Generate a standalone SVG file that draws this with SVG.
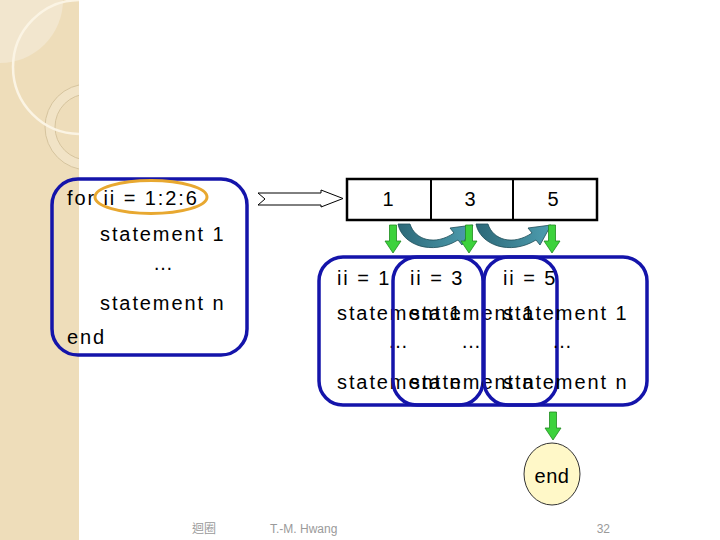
<svg xmlns="http://www.w3.org/2000/svg" width="720" height="540" viewBox="0 0 720 540">
<style>
.t{font-family:"Liberation Sans",Arial,sans-serif;font-size:20px;fill:#000;letter-spacing:1.9px}
.box{fill:none;stroke:#1414AA;stroke-width:3.5}
.grn{fill:#3CD23C;stroke:#1E8A1E;stroke-width:0.8}
.teal{fill:url(#tg);stroke:#1D4C58;stroke-width:0.8}
.ft{font-family:"Liberation Sans",Arial,"Noto Sans CJK TC",sans-serif;font-size:12px;fill:#9A9A9A}
</style>
<defs>
<linearGradient id="tg" x1="0" y1="0" x2="1" y2="0">
<stop offset="0" stop-color="#2C6878"/>
<stop offset="1" stop-color="#4E9EB0"/>
</linearGradient>
<clipPath id="strip"><rect x="0" y="0" width="79" height="540"/></clipPath>
<path id="garrow" d="M-3.5,0 H3.5 V16 H8 L0,28 L-8,16 H-3.5 Z"/>
<path id="tarrow" d="M398,224 C402,245 432,256 458,240 L462,245 L473,225 L450,228 L454,233 C435,246 415,240 410,224 Z"/>
</defs>
<g id="background">
<rect x="0" y="0" width="79" height="540" fill="#EEDDBA"/>
<g clip-path="url(#strip)">
<circle cx="0" cy="0" r="63" fill="#F2E6CE"/>
<circle cx="88" cy="127" r="38" fill="none" stroke="#F1E3C6" stroke-width="10"/>
<circle cx="88" cy="127" r="43" fill="none" stroke="#D6C49E" stroke-width="1"/>
<circle cx="88" cy="127" r="33" fill="none" stroke="#D6C49E" stroke-width="1"/>
<circle cx="80" cy="67" r="67" fill="none" stroke="#FBF4E4" stroke-width="2.5"/>
</g>
</g>
<g id="code-box">
<rect class="box" x="52" y="179" width="195" height="176" rx="26"/>
<text class="t" x="67" y="205">for ii = 1:2:6</text>
<text class="t" x="100" y="241">statement 1</text>
<text class="t" x="153" y="270">…</text>
<text class="t" x="100" y="310">statement n</text>
<text class="t" x="67" y="344">end</text>
<ellipse cx="151" cy="197" rx="56" ry="16.5" fill="none" stroke="#E8A830" stroke-width="3"/>
</g>
<g id="values-box">
<rect x="347" y="179" width="250" height="41" fill="#fff" stroke="#000" stroke-width="2.5"/>
<line x1="431" y1="179" x2="431" y2="220" stroke="#000" stroke-width="2"/>
<line x1="513" y1="179" x2="513" y2="220" stroke="#000" stroke-width="2"/>
<text class="t" x="389" y="206" text-anchor="middle">1</text>
<text class="t" x="471" y="206" text-anchor="middle">3</text>
<text class="t" x="554" y="206" text-anchor="middle">5</text>
</g>
<g id="iter1">
<rect class="box" x="319" y="257" width="164" height="148" rx="24"/>
<text class="t" x="337" y="285">ii = 1</text>
<text class="t" x="337" y="320">statement 1</text>
<text class="t" x="388" y="348">…</text>
<text class="t" x="337" y="389">statement n</text>
</g>
<g id="iter2">
<rect class="box" x="393" y="257" width="164" height="148" rx="24"/>
<text class="t" x="410" y="285">ii = 3</text>
<text class="t" x="410" y="320">statement 1</text>
<text class="t" x="461" y="348">…</text>
<text class="t" x="410" y="389">statement n</text>
</g>
<g id="iter3">
<rect class="box" x="484" y="257" width="163" height="148" rx="24"/>
<text class="t" x="503" y="285">ii = 5</text>
<text class="t" x="503" y="320">statement 1</text>
<text class="t" x="552" y="348">…</text>
<text class="t" x="503" y="389">statement n</text>
</g>
<g id="end-node">
<ellipse cx="552" cy="474" rx="28" ry="31" fill="#FFF8C8" stroke="#333" stroke-width="1"/>
<text class="t" x="552" y="483" text-anchor="middle" style="letter-spacing:0.5px">end</text>
</g>
<g id="connectors">
<path d="M258,193 L321,193 L321,190 L343,198.5 L321,207 L321,205 L258,205 L265,199 Z" fill="#fff" stroke="#000" stroke-width="1"/>
<use href="#tarrow" class="teal"/>
<use href="#tarrow" class="teal" transform="translate(78,0)"/>
<use href="#garrow" class="grn" transform="translate(393,225)"/>
<use href="#garrow" class="grn" transform="translate(469,225)"/>
<use href="#garrow" class="grn" transform="translate(552,225)"/>
<use href="#garrow" class="grn" transform="translate(553,412)"/>
</g>
<g id="footer">
<text class="ft" x="192" y="533">迴圈</text>
<text class="ft" x="270" y="533">T.-M. Hwang</text>
<text class="ft" x="610" y="533" text-anchor="end">32</text>
</g>
</svg>
